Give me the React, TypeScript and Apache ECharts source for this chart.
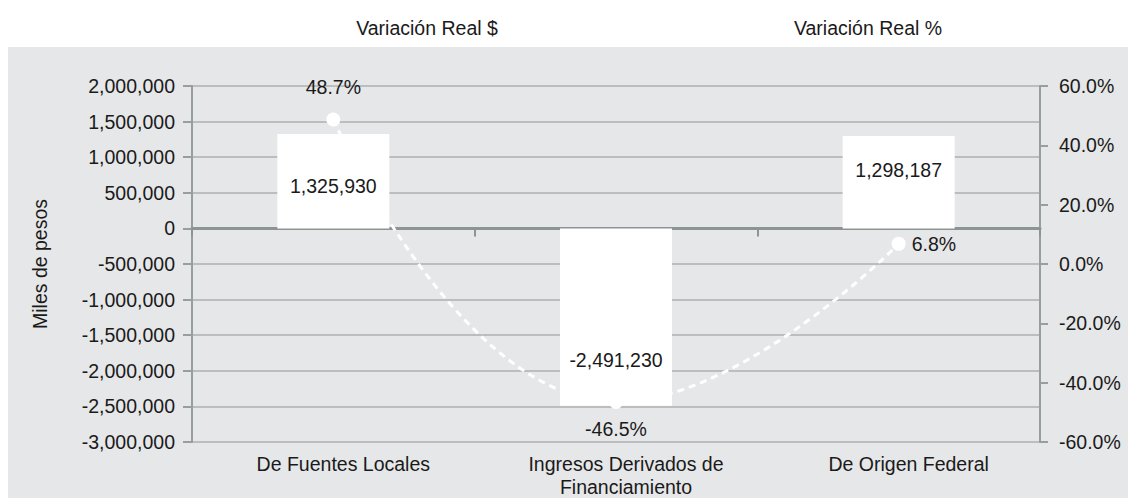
import React, { useEffect, useRef } from "react";
import * as echarts from "echarts";

const categories = [
  "De Fuentes Locales",
  "Ingresos Derivados de\nFinanciamiento",
  "De Origen Federal",
];
const variacionPesos = [1325930, -2491230, 1298187];
const variacionPct = [48.7, -46.5, 6.8];
const leftMin = -3000000;
const leftMax = 2000000;
const leftInterval = 500000;
const rightMin = -60;
const rightMax = 60;
const rightInterval = 20;
const titleBars = "Variación Real $";
const titleLine = "Variación Real %";
const yName = "Miles de pesos";

// label styling (not data)
const barLabelOffsets = [
  [0, 5],
  [0, 43],
  [0, -12],
];
const pctLabelPos = ["top", "bottom", "right"];
const pctLabelDist = [16, 10, 6];

const FONT = "'Liberation Sans', Arial, sans-serif";
const FS = 19.5;
const TXT = "#1a1a1a";
const AX = "#979e9e";
const GRID = "#babebf";

const fmt = (v: number) => Math.round(v).toLocaleString("en-US");

export default function App() {
  const ref = useRef<HTMLDivElement>(null);
  useEffect(() => {
    document.body.style.margin = "0";
    if (!ref.current) return;
    const chart = echarts.init(ref.current, null, { renderer: "svg" });
    chart.setOption({
      animation: false,
      backgroundColor: "#e6e7e8",
      textStyle: { fontFamily: FONT },
      graphic: [
        { type: "rect", silent: true, shape: { x: 0, y: 0, width: 1128, height: 47 }, style: { fill: "#ffffff" } },
        { type: "rect", silent: true, shape: { x: 0, y: 47, width: 8, height: 451 }, style: { fill: "#ffffff" } },
        {
          type: "text",
          x: 427,
          y: 28,
          style: { text: titleBars, fill: TXT, font: `${FS}px ${FONT}`, textAlign: "center", textVerticalAlign: "middle" },
        },
        {
          type: "text",
          x: 868,
          y: 28,
          style: { text: titleLine, fill: TXT, font: `${FS}px ${FONT}`, textAlign: "center", textVerticalAlign: "middle" },
        },
      ],
      grid: { left: 192, right: 88, top: 86, bottom: 52, containLabel: false },
      xAxis: [
        {
          type: "category",
          data: categories,
          axisLine: { show: true, onZero: true, lineStyle: { color: "#8c9494", width: 3 } },
          axisTick: { show: true, length: 8, lineStyle: { color: "#8c9494", width: 2 } },
          axisLabel: { show: false },
          splitLine: { show: false },
        },
        {
          type: "category",
          data: categories,
          position: "bottom",
          axisLine: { show: false, onZero: false },
          axisTick: { show: false },
          splitLine: { show: false },
          axisLabel: {
            show: true,
            interval: 0,
            margin: 10,
            fontSize: FS,
            lineHeight: 23,
            color: TXT,
            fontFamily: FONT,
            padding: [0, 0, 0, 20],
          },
        },
      ],
      yAxis: [
        {
          type: "value",
          position: "left",
          min: leftMin,
          max: leftMax,
          interval: leftInterval,
          name: yName,
          nameLocation: "middle",
          nameGap: 142,
          nameRotate: 90,
          nameTextStyle: { fontSize: FS, color: TXT, fontFamily: FONT },
          axisLine: { show: true, lineStyle: { color: AX, width: 2 } },
          axisTick: { show: true, length: 9, lineStyle: { color: AX, width: 2 } },
          axisLabel: { formatter: (v: number) => fmt(v), margin: 17, fontSize: FS, color: TXT, fontFamily: FONT },
          splitLine: { show: true, lineStyle: { color: GRID, width: 2 } },
        },
        {
          type: "value",
          position: "right",
          min: rightMin,
          max: rightMax,
          interval: rightInterval,
          axisLine: { show: true, lineStyle: { color: AX, width: 2 } },
          axisTick: { show: true, length: 8, lineStyle: { color: AX, width: 2 } },
          axisLabel: {
            formatter: (v: number) => v.toFixed(1) + "%",
            margin: 19,
            fontSize: FS,
            color: TXT,
            fontFamily: FONT,
          },
          splitLine: { show: false },
        },
      ],
      series: [
        {
          type: "line",
          name: titleLine,
          xAxisIndex: 0,
          yAxisIndex: 1,
          z: 2,
          smooth: true,
          symbol: "circle",
          symbolSize: 14,
          lineStyle: { color: "#ffffff", width: 3, type: [7, 5] },
          itemStyle: { color: "#ffffff" },
          label: {
            show: true,
            fontSize: FS,
            color: TXT,
            fontFamily: FONT,
            formatter: (p: any) => Number(p.value).toFixed(1) + "%",
          },
          data: variacionPct.map((v, i) => ({
            value: v,
            label: { position: pctLabelPos[i], distance: pctLabelDist[i] },
          })),
        },
        {
          type: "bar",
          name: titleBars,
          xAxisIndex: 0,
          yAxisIndex: 0,
          z: 3,
          barWidth: 112,
          itemStyle: { color: "#ffffff" },
          label: {
            show: true,
            position: "inside",
            fontSize: FS,
            color: TXT,
            fontFamily: FONT,
            formatter: (p: any) => fmt(Number(p.value)),
          },
          data: variacionPesos.map((v, i) => ({
            value: v,
            label: { offset: barLabelOffsets[i] },
          })),
        },
      ],
    });
    return () => chart.dispose();
  }, []);
  return <div ref={ref} style={{ width: 1128, height: 498 }} />;
}
